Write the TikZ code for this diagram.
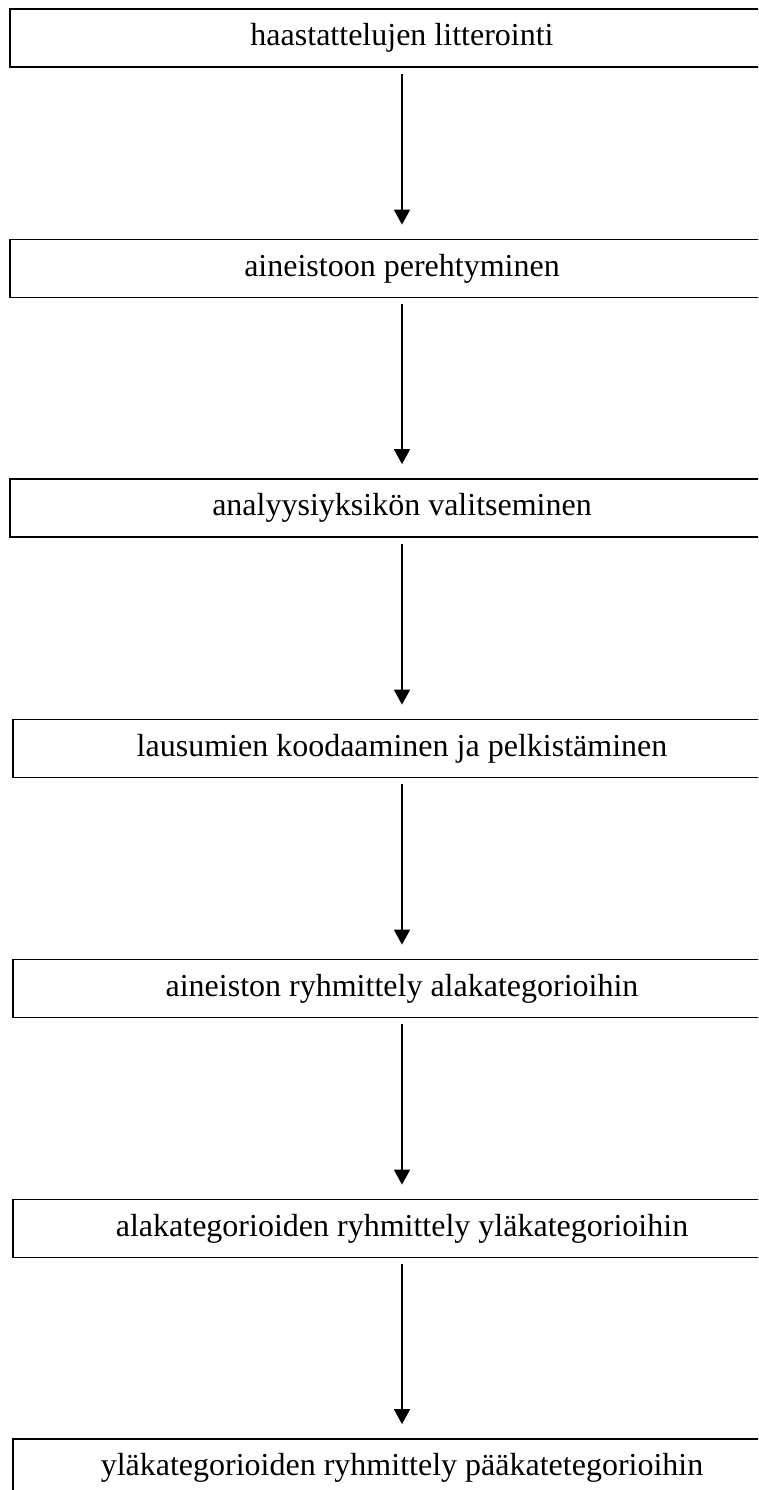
\documentclass[tikz,border=0pt]{standalone}
\usepackage{fontspec}
\setmainfont{Liberation Serif}
\usetikzlibrary{arrows.meta}
\begin{document}
\begin{tikzpicture}[x=1pt,y=-1pt,
  stepbox/.style={draw=black, line width=1.8pt, rectangle, minimum height=58pt, inner sep=0pt, font=\fontsize{32}{36}\selectfont, fill=white},
  wideA/.style={minimum width=784pt},
  wideB/.style={minimum width=778pt},
  flow/.style={-{Triangle[width=16pt,length=15pt]}, line width=1.8pt, shorten <=6pt, shorten >=14pt}]
\useasboundingbox (0,0) rectangle (758,1490);
\begin{scope}
\clip (0,0) rectangle (758,1490);
\node[stepbox,wideA] (b1) at (402,38) {haastattelujen litterointi};
\node[stepbox,wideA] (b2) at (402,268.5) {aineistoon perehtyminen};
\node[stepbox,wideA] (b3) at (402,508) {analyysiyksikön valitseminen};
\node[stepbox,wideB] (b4) at (402,748.5) {lausumien koodaaminen ja pelkistäminen};
\node[stepbox,wideB] (b5) at (402,988.5) {aineiston ryhmittely alakategorioihin};
\node[stepbox,wideB] (b6) at (402,1228.5) {alakategorioiden ryhmittely yläkategorioihin};
\node[stepbox,wideB] (b7) at (402,1468) {yläkategorioiden ryhmittely pääkatetegorioihin};
\draw[flow] (b1.south) -- (b2.north);
\draw[flow] (b2.south) -- (b3.north);
\draw[flow] (b3.south) -- (b4.north);
\draw[flow] (b4.south) -- (b5.north);
\draw[flow] (b5.south) -- (b6.north);
\draw[flow] (b6.south) -- (b7.north);
\end{scope}
\end{tikzpicture}
\end{document}
